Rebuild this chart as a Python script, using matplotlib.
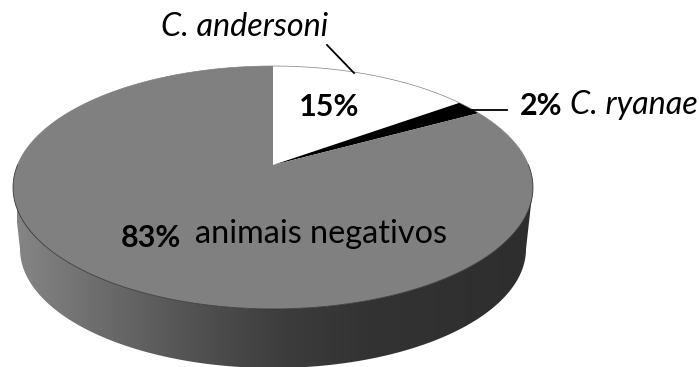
import numpy as np
import matplotlib
matplotlib.use("Agg")
import matplotlib.pyplot as plt
from matplotlib.patches import Polygon
from matplotlib.colors import LinearSegmentedColormap

# Share of animals per result, clockwise from twelve o'clock
categories = ["C. andersoni", "C. ryanae", "animais negativos"]
percentages = [15, 2, 83]
slice_colors = ["#ffffff", "#000000", "#808080"]

W, H = 699, 367
fig = plt.figure(figsize=(W / 100, H / 100), dpi=100)
ax = fig.add_axes([0, 0, 1, 1])
ax.set_xlim(0, W)
ax.set_ylim(H, 0)
ax.axis("off")
plt.rcParams["font.family"] = ["Lato", "DejaVu Sans"]

# Tilted disc: a circle seen in perspective, so its centre sits above the ellipse centre
CX, CY = 273.0, 165.0
TILT = 0.185
RX, RY = 255.5, 117.3


def rim(theta):
    denom = 1 + TILT * np.cos(theta)
    return CX + RX * np.sin(theta) / denom, CY - RY * np.cos(theta) / denom


# Side wall: lower half of the base ellipse joined to the top rim
BASE_Y, BASE_RX, BASE_RY = 249.0, 253.0, 119.0
t = np.linspace(0, np.pi, 200)
base_x = CX + BASE_RX * np.cos(t)
base_y = BASE_Y + BASE_RY * np.sin(t)
rim_t = np.linspace(-np.pi * 0.61, np.pi * 0.58, 200) + np.pi
rim_x, rim_y = rim(rim_t)
order = np.argsort(rim_x)
wall_xy = np.column_stack([
    np.r_[base_x, rim_x[order]],
    np.r_[base_y, rim_y[order]],
])
wall = Polygon(wall_xy, closed=True, facecolor="none", edgecolor="none")
ax.add_patch(wall)

shade = LinearSegmentedColormap.from_list(
    "wall",
    [(0.0, "#858585"), (0.15, "#6e6e6e"), (0.32, "#555555"),
     (0.52, "#3c3c3c"), (0.68, "#333333"), (1.0, "#2e2e2e")],
)
gradient = ax.imshow(
    np.linspace(0, 1, 512)[None, :], cmap=shade, vmin=0, vmax=1,
    extent=(17, 533, H, 180), aspect="auto", interpolation="bilinear", zorder=1,
)
gradient.set_clip_path(wall)
ax.set_xlim(0, W)
ax.set_ylim(H, 0)

# Top face, one polygon per slice
edges = np.cumsum([0] + percentages) / 100 * 2 * np.pi
for start, stop, color in zip(edges[:-1], edges[1:], slice_colors):
    arc = np.linspace(start, stop, 300)
    x, y = rim(arc)
    ax.add_patch(Polygon(np.column_stack([np.r_[CX, x], np.r_[CY, y]]), closed=True,
                         facecolor=color, edgecolor="none", zorder=2))

# Thin outline along the rim: faint at the back, darker along the front edge
back = np.linspace(-np.pi * 0.5, np.pi * 0.5, 300)
ax.plot(*rim(back), color="#808080", lw=0.5, zorder=3)
front = np.linspace(np.pi * 0.5, np.pi * 1.5, 300)
ax.plot(*rim(front), color="#3a3a3a", lw=0.6, zorder=3)

# Leader lines
ax.plot([327, 354], [45, 73], color="black", lw=1.3, zorder=4)
ax.plot([470, 507], [110, 110], color="black", lw=1.3, zorder=4)

# Labels
FS = 23.3
FS_BOLD = 22.0
ax.text(245, 27, categories[0], style="italic", fontsize=FS, ha="center", va="center", zorder=5)
ax.text(329, 107, f"{percentages[0]}%", weight="bold", fontsize=FS_BOLD, ha="center", va="center", zorder=5)
ax.text(541, 106, f"{percentages[1]}%", weight="bold", fontsize=FS_BOLD, ha="center", va="center", zorder=5)
ax.text(570, 105, categories[1], style="italic", fontsize=FS, ha="left", va="center", zorder=5)
ax.text(151, 238, f"{percentages[2]}%", weight="bold", fontsize=FS_BOLD, ha="center", va="center", zorder=5)
ax.text(195, 234, categories[2], fontsize=FS, ha="left", va="center", zorder=5)

fig.savefig("out.png", dpi=100)
